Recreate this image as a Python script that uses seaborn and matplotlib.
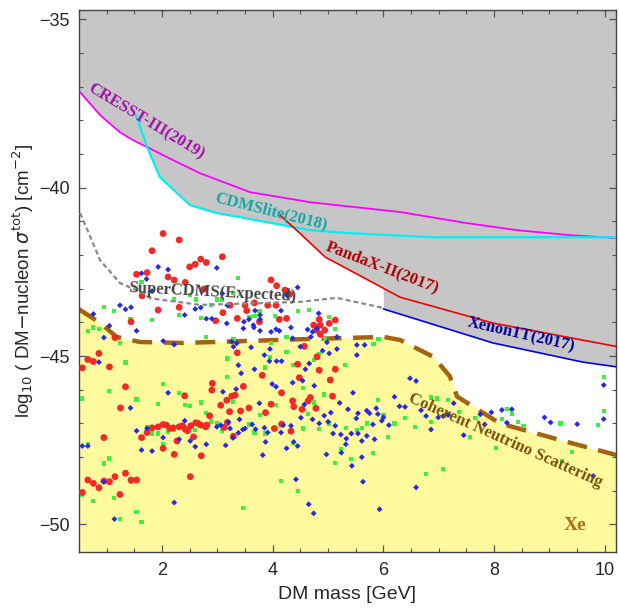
import numpy as np
import pandas as pd
import seaborn as sns
import matplotlib.pyplot as plt
from matplotlib.ticker import MultipleLocator

# exclusion curves (DM mass [GeV], log10 sigma)
cresst_x = [0.52, 0.88, 1.24, 1.48, 1.73, 2.2, 2.69, 3.59, 4.68, 6.3, 7.51, 8.42, 9.32, 10.26]
cresst_y = [-37.16, -37.84, -38.35, -38.59, -38.79, -39.18, -39.57, -40.13, -40.43, -40.72, -41.05, -41.26, -41.4, -41.5]

cdms_x = [1.53, 1.73, 1.96, 2.5, 2.99, 4.68, 5.4, 6.9, 10.26]
cdms_y = [-37.84, -38.79, -39.68, -40.51, -40.75, -41.26, -41.35, -41.47, -41.47]

pandax_x = [4.13, 4.49, 4.95, 6.3, 7.98, 10.26]
pandax_y = [-40.81, -41.35, -42.06, -43.25, -44.02, -44.73]

xenon_x = [6.0, 7.98, 9.61, 10.26]
xenon_y = [-43.6, -44.61, -45.18, -45.33]

supercdms_x = [0.52, 0.73, 0.88, 1.24, 1.66, 1.78, 2.69, 4.49, 5.16, 6.0]
supercdms_y = [-40.75, -41.55, -42.15, -42.83, -43.13, -43.28, -43.48, -43.39, -43.27, -43.57]

floor_x = [0.5, 0.52, 0.88, 1.18, 1.6, 2.38, 4.49, 6.0, 6.3, 6.9, 7.2, 7.33, 7.98, 8.11, 9.32, 10.26]
floor_y = [-43.6, -43.63, -44.01, -44.43, -44.58, -44.61, -44.5, -44.43, -44.52, -45.02, -45.6, -46.2, -46.87, -47.0, -47.55, -47.96]

red_pts = [
    (2.02, -41.36), (2.31, -41.55), (1.82, -41.87), (3.09, -42.05), (2.7, -42.12), (2.6, -42.27),
    (2.5, -42.35), (2.8, -42.22), (1.54, -42.57), (1.73, -42.52), (2.11, -42.65), (2.22, -42.74),
    (2.42, -42.81), (1.64, -43.21), (2.76, -43.01), (1.93, -43.63), (2.31, -43.55), (2.97, -43.95),
    (1.44, -43.98), (1.15, -44.45), (0.86, -44.92), (0.66, -45.1), (0.76, -45.16), (1.05, -45.32),
    (0.56, -45.35),
    (3.97, -42.74), (4.07, -42.91), (4.22, -43.04), (4.31, -43.16), (3.91, -43.49), (4.06, -43.49),
    (3.67, -43.42), (3.5, -43.49), (3.53, -43.65), (3.23, -43.49), (3.1, -43.71), (3.36, -43.88),
    (4.12, -43.91), (4.25, -43.88), (4.84, -43.91), (4.74, -44.08), (4.86, -44.08), (5.02, -44.03),
    (5.13, -43.93), (4.94, -44.23), (4.79, -44.23), (4.86, -44.35), (3.76, -43.98), (3.36, -44.9),
    (4.57, -44.71), (4.8, -45.02), (4.45, -45.24), (3.81, -45.57), (4.48, -45.64), (4.84, -45.42),
    (5.13, -45.39),
    (1.34, -45.91), (1.25, -46.54), (2.91, -45.81), (2.9, -46.01), (2.41, -46.18), (3.06, -46.46),
    (2.86, -46.77), (1.63, -47.42), (1.73, -47.27), (1.82, -47.13), (1.93, -47.1), (2.02, -47.03),
    (2.08, -47.05), (2.14, -47.15), (2.2, -47.13), (2.31, -47.1), (2.37, -47.07), (2.42, -47.17),
    (2.46, -47.22), (2.52, -47.07), (2.61, -46.98), (2.65, -47.0), (2.7, -47.05), (2.79, -47.1),
    (2.81, -47.05), (2.57, -47.4), (2.27, -47.52), (2.02, -47.74), (2.22, -47.92), (2.71, -47.96),
    (0.95, -47.42), (2.51, -48.58), (0.66, -48.68), (0.76, -48.78), (0.86, -48.91), (0.95, -48.71),
    (1.05, -48.73), (1.15, -48.58), (1.34, -48.48), (1.44, -48.68), (1.54, -48.68), (1.24, -49.11),
    (0.56, -49.05),
    (5.04, -45.71), (3.47, -45.9), (3.32, -46.16), (3.26, -46.19), (3.17, -46.31), (4.16, -46.09),
    (4.68, -46.23), (4.64, -46.33), (5.08, -46.19), (4.36, -46.33), (4.38, -46.5), (4.53, -46.58),
    (4.78, -46.55), (3.97, -46.43), (3.57, -46.54), (3.42, -46.63), (3.22, -46.65), (3.87, -46.68),
    (3.12, -47.12), (3.18, -46.97), (3.29, -47.38), (4.03, -47.15), (4.16, -47.02), (4.33, -47.23),
]

green_pts = [
    (1.63, -42.81), (0.95, -43.55), (1.14, -43.65), (2.22, -43.32), (2.5, -43.19), (2.61, -43.32),
    (3.0, -43.32), (3.09, -43.32), (2.89, -43.49), (2.31, -43.78), (2.7, -43.88), (1.43, -43.91),
    (1.82, -43.93), (0.76, -44.15), (0.86, -44.2), (0.66, -44.25), (1.24, -44.62), (2.8, -44.43),
    (1.34, -45.19),
    (3.38, -42.67), (3.28, -43.12), (3.76, -43.66), (4.45, -43.66), (4.65, -43.63), (3.67, -43.81),
    (4.04, -43.81), (5.02, -43.85), (5.13, -44.2), (3.58, -43.85), (3.29, -44.5), (4.25, -44.43),
    (4.94, -44.5), (3.97, -44.62), (3.95, -45.02), (4.84, -44.94), (4.25, -44.87), (3.17, -45.07),
    (4.74, -45.12), (4.37, -45.27), (5.31, -45.27), (3.86, -45.34), (3.18, -45.61),
    (2.02, -45.84), (1.04, -46.04), (2.31, -46.09), (0.56, -46.26), (1.54, -46.29), (1.93, -46.43),
    (2.41, -46.44), (2.51, -46.49), (2.7, -46.38), (2.79, -46.68), (2.89, -46.94), (2.99, -47.0),
    (1.73, -47.12), (1.82, -47.3), (1.93, -47.3), (2.11, -47.25), (2.22, -47.2), (2.6, -47.2),
    (3.09, -47.23), (2.02, -47.62), (0.66, -47.61), (1.04, -48.04), (0.95, -48.19), (1.34, -48.45),
    (1.44, -48.75), (0.56, -49.11), (0.76, -49.31), (1.14, -49.21), (1.54, -49.62), (1.63, -49.92),
    (1.24, -49.84),
    (4.54, -45.94), (4.93, -46.14), (3.28, -46.36), (4.06, -46.44), (4.74, -46.38), (3.77, -46.75),
    (4.64, -46.73), (3.58, -47.03), (5.02, -47.0), (5.32, -47.13), (5.52, -47.2), (5.61, -47.13),
    (4.54, -47.15), (4.83, -47.17), (3.67, -47.27), (3.86, -47.3), (4.36, -47.58), (5.23, -47.77),
    (5.42, -48.06), (5.13, -48.17), (4.15, -48.71), (4.45, -49.01), (3.47, -49.52),
    (5.82, -44.64), (5.91, -44.5), (5.9, -46.31), (6.86, -46.23), (6.97, -46.26), (7.17, -46.31),
    (7.36, -46.66), (6.86, -46.95), (6.57, -47.1), (6.39, -46.83), (6.2, -47.0), (5.71, -47.0),
    (6.0, -46.75), (6.09, -47.4), (5.81, -47.89), (7.57, -47.4), (7.65, -46.85), (6.77, -48.51),
    (7.07, -48.36),
    (9.98, -45.63), (9.98, -46.63), (9.88, -47.05), (8.23, -46.57), (8.33, -46.72), (8.14, -46.87),
    (8.43, -46.95), (8.53, -47.07), (9.2, -47.0), (8.04, -47.72), (9.4, -47.84), (9.22, -48.12),
]

blue_pts = [
    (1.93, -42.35), (2.11, -42.43), (1.63, -42.54), (1.72, -42.71), (2.99, -42.38), (1.82, -43.07),
    (3.09, -43.14), (1.24, -43.49), (1.34, -43.61), (1.44, -43.55), (2.6, -43.6), (2.7, -43.56),
    (2.41, -43.78), (2.8, -43.89), (2.9, -43.89), (0.76, -43.75), (1.05, -44.1), (1.54, -44.25),
    (0.95, -44.45), (2.02, -44.55), (2.22, -44.66), (0.86, -45.18),
    (4.45, -42.96), (4.25, -43.19), (3.18, -43.49), (3.68, -43.65), (3.77, -43.78), (4.15, -43.65),
    (4.83, -43.73), (3.17, -44.03), (3.48, -43.98), (3.57, -43.91), (3.65, -44.08), (3.77, -43.91),
    (3.47, -44.18), (3.66, -44.15), (3.77, -44.25), (3.97, -44.28), (4.06, -44.2), (4.12, -44.25),
    (4.33, -44.15), (4.63, -44.21), (4.8, -44.18), (4.72, -44.28), (4.36, -44.47), (4.69, -44.43),
    (4.98, -44.59), (5.16, -44.43), (3.26, -44.57), (3.35, -44.62), (3.29, -44.72), (3.61, -44.74),
    (3.95, -44.79), (4.5, -44.72), (4.9, -44.84), (5.02, -44.92), (5.16, -44.79), (3.85, -44.97),
    (4.07, -45.15), (4.16, -45.15), (3.94, -45.15), (3.38, -45.27), (4.66, -45.22), (3.43, -45.51),
    (3.67, -45.39), (4.59, -45.39), (5.52, -44.67), (5.52, -44.97),
    (2.11, -46.09), (1.43, -46.54), (1.54, -47.22), (1.73, -47.15), (2.41, -46.92), (2.02, -47.42),
    (2.31, -47.47), (2.51, -47.52), (2.6, -47.69), (2.8, -47.62), (1.63, -47.79), (1.82, -47.82),
    (0.56, -47.67), (0.66, -47.67), (0.95, -48.73), (2.22, -49.35), (1.14, -49.84), (2.99, -47.1),
    (3.06, -47.05), (3.1, -46.06),
    (3.34, -45.98), (3.99, -45.83), (4.06, -45.91), (4.36, -45.79), (4.54, -45.73), (4.75, -45.88),
    (5.45, -46.09), (3.76, -46.4), (4.57, -46.44), (5.21, -46.39), (5.36, -46.58), (5.05, -46.68),
    (4.93, -46.77), (5.54, -46.7), (5.51, -46.85), (4.51, -46.83), (4.72, -46.88), (5.0, -46.95),
    (4.84, -47.0), (5.13, -47.07), (3.4, -46.88), (3.63, -47.03), (3.85, -47.13), (4.19, -47.05),
    (4.33, -47.07), (3.2, -46.96), (3.5, -47.15), (3.46, -47.18), (3.38, -47.28), (3.69, -47.17),
    (3.23, -47.15), (3.91, -47.27), (4.15, -47.27), (3.87, -47.55), (3.15, -47.65), (3.28, -47.43),
    (4.25, -47.74), (4.38, -47.55), (4.45, -47.67), (3.82, -47.94), (4.97, -47.92), (5.09, -47.3),
    (5.23, -47.33), (5.33, -47.45), (5.42, -47.3), (5.54, -47.3), (5.32, -47.62), (5.24, -47.87),
    (5.61, -47.52), (5.43, -48.26), (5.61, -48.0), (4.42, -48.66), (5.63, -48.73), (4.65, -49.4),
    (4.74, -49.67),
    (5.66, -44.67), (6.48, -45.66), (6.59, -45.74), (6.2, -46.21), (6.29, -46.49), (6.39, -46.51),
    (6.68, -46.61), (6.77, -46.78), (6.99, -46.82), (7.08, -46.78), (7.17, -46.75), (7.27, -46.4),
    (7.75, -46.73), (7.83, -47.03), (7.45, -47.35), (6.86, -47.18), (5.87, -46.55), (5.9, -46.72),
    (5.7, -46.62), (5.75, -46.7), (5.81, -47.03), (5.97, -46.92), (6.0, -46.82), (6.1, -47.05),
    (5.7, -47.37), (5.84, -47.47), (6.59, -48.9), (5.93, -49.55),
    (7.95, -46.67), (8.14, -46.6), (8.32, -46.58), (8.23, -46.98), (8.91, -46.82), (9.02, -46.97),
    (9.5, -47.02), (9.98, -45.86), (9.98, -46.87), (9.79, -48.56),
]

XMIN, XMAX = 0.5, 10.2
YMIN, YMAX = -50.82, -34.72

sns.set_theme(style="ticks")
plt.rcParams['font.family'] = ['Liberation Sans', 'DejaVu Sans']

fig = plt.figure(figsize=(6.19, 6.10), dpi=100)
ax = fig.add_axes([0.1276, 0.095, 0.995 - 0.1276, 0.9836 - 0.095])

# gray excluded region above the lowest current limit
grid = np.linspace(XMIN, XMAX, 1500)
inf = np.inf
lim_cresst = np.interp(grid, cresst_x, cresst_y)
lim_cdms = np.where(grid >= cdms_x[0], np.interp(grid, cdms_x, cdms_y), inf)
lim_pandax = np.where(grid >= pandax_x[0], np.interp(grid, pandax_x, pandax_y), inf)
lim_xenon = np.where(grid >= xenon_x[0], np.interp(grid, xenon_x, xenon_y), inf)
envelope = np.minimum.reduce([lim_cresst, lim_cdms, lim_pandax, lim_xenon])
ax.fill_between(grid, envelope, YMAX + 1, color="#c6c6c6", lw=0, zorder=0)

# neutrino floor region
ax.fill_between(floor_x, floor_y, YMIN - 1, color="#fffa9e", lw=0, zorder=0)

# benchmark points
red = pd.DataFrame(red_pts, columns=["mass", "sigma"])
green = pd.DataFrame(green_pts, columns=["mass", "sigma"])
blue = pd.DataFrame(blue_pts, columns=["mass", "sigma"])

sns.lineplot(x=floor_x, y=floor_y, ax=ax, color="#a5620f", lw=3.2, sort=False,
             estimator=None, zorder=2).lines[-1].set_dashes([4.5, 2.6])

sns.scatterplot(data=green, x="mass", y="sigma", ax=ax, marker="s", s=9,
                color="#3cf03c", edgecolor="none", zorder=3)
sns.scatterplot(data=red, x="mass", y="sigma", ax=ax, marker="o", s=24,
                color="#f52828", edgecolor="none", zorder=3)
sns.scatterplot(data=blue, x="mass", y="sigma", ax=ax, marker="D", s=9,
                color="#2828e6", edgecolor="none", zorder=3)

# limit curves
curves = [
    (cresst_x, cresst_y, "#ff00ff", 1.3),
    (cdms_x, cdms_y, "#00f0f0", 1.6),
    (pandax_x, pandax_y, "#ee0000", 1.2),
    (xenon_x, xenon_y, "#0000ee", 1.2),
]
for cx, cy, col, lw in curves:
    sns.lineplot(x=cx, y=cy, ax=ax, color=col, lw=lw, sort=False, estimator=None, zorder=4)

sns.lineplot(x=supercdms_x, y=supercdms_y, ax=ax, color="#8a8a8a", lw=1.6, sort=False,
             estimator=None, zorder=4).lines[-1].set_dashes([2.2, 1.4])

# curve labels
serif = dict(family=["Liberation Serif", "DejaVu Serif"], weight="bold",
             ha="center", va="center", rotation_mode="anchor", zorder=5)
ax.text(1.72, -38.05, "CRESST-III(2019)", color="#a010a8", fontsize=12, rotation=-31, **serif)
ax.text(3.97, -40.72, "CDMSlite(2018)", color="#10a8a8", fontsize=12, rotation=-14, **serif)
ax.text(5.98, -42.38, "PandaX-II(2017)", color="#b00000", fontsize=12, rotation=-21, **serif)
ax.text(2.9, -43.1, "SuperCDMS(Expected)", color="#444444", fontsize=12, rotation=-3, **serif)
ax.text(8.48, -44.38, "Xenon1T(2017)", color="#0000a0", fontsize=12, rotation=-13, **serif)
ax.text(8.2, -47.5, "Coherent Neutrino Scattering", color="#7a4e0e", fontsize=12,
        rotation=-24, **serif)
ax.text(9.47, -50.02, "Xe", color="#b06a10", fontsize=14, rotation=0, **serif)

ax.set_xlim(XMIN, XMAX)
ax.set_ylim(YMIN, YMAX)
ax.xaxis.set_major_locator(MultipleLocator(2))
ax.xaxis.set_minor_locator(MultipleLocator(0.5))
ax.yaxis.set_major_locator(MultipleLocator(5))
ax.yaxis.set_minor_locator(MultipleLocator(1))
ax.tick_params(which="both", direction="in", top=True, right=True, color="#555555",
               labelsize=13, pad=7)
ax.tick_params(which="major", length=5, width=0.9)
ax.tick_params(which="minor", length=3, width=0.8)
for sp in ax.spines.values():
    sp.set_color("#444444")
    sp.set_linewidth(1.0)

ax.set_xlabel("DM mass [GeV]", fontsize=14, labelpad=5)
ax.set_ylabel(r"log$_{10}$ ( DM$-$nucleon $\sigma^{\rm tot}$) [cm$^{-2}$]", fontsize=13.5, labelpad=2)

fig.savefig("out.png", dpi=100)
